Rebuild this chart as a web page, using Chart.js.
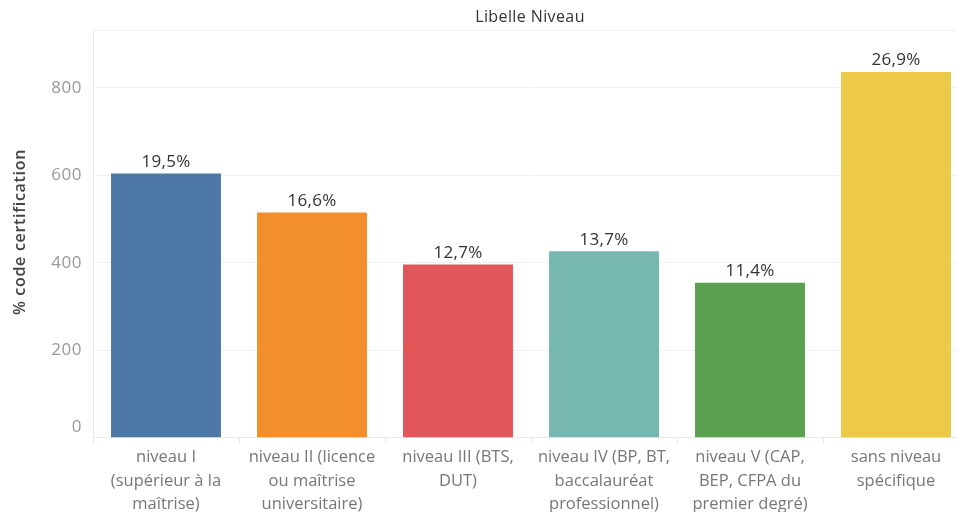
<!DOCTYPE html>
<html>
<head>
<meta charset="utf-8">
<script src="https://cdn.jsdelivr.net/npm/chart.js@4.4.0/dist/chart.umd.min.js"></script>
<style>
  html, body { margin: 0; padding: 0; background: #fff; overflow: hidden; }
  #wrap { width: 975px; height: 518px; }
</style>
</head>
<body>
<div id="wrap"><canvas id="niveauChart" width="975" height="518"></canvas></div>
<script>
// data
const categories = [
  ['niveau I', '(supérieur à la', 'maîtrise)'],
  ['niveau II (licence', 'ou maîtrise', 'universitaire)'],
  ['niveau III (BTS,', 'DUT)'],
  ['niveau IV (BP, BT,', 'baccalauréat', 'professionnel)'],
  ['niveau V (CAP,', 'BEP, CFPA du', 'premier degré)'],
  ['sans niveau', 'spécifique']
];
const counts = [604, 515, 396, 426, 354, 836];
const shareLabels = ['19,5%', '16,6%', '12,7%', '13,7%', '11,4%', '26,9%'];
const barColors = ['#4E79A7', '#F28E2B', '#E15759', '#76B7B2', '#59A14F', '#EDC948'];
const yTicks = [0, 200, 400, 600, 800];

const FONT = '"Open Sans", sans-serif';

// title, y axis title, y tick labels and bar labels
const decorations = {
  id: 'decorations',
  afterDraw(chart) {
    const ctx = chart.ctx;
    const y = chart.scales.y;
    ctx.save();

    ctx.fillStyle = '#333';
    ctx.font = '16px ' + FONT;
    ctx.letterSpacing = '0.4px';
    ctx.textAlign = 'center';
    ctx.textBaseline = 'middle';
    ctx.fillText('Libelle Niveau', 530, 17);

    ctx.fillStyle = '#999';
    ctx.font = '17px ' + FONT;
    ctx.letterSpacing = '0.5px';
    ctx.textAlign = 'right';
    yTicks.forEach(v => {
      const py = y.getPixelForValue(v) - (v === 0 ? 11 : 0);
      ctx.fillText(String(v), 82, py);
    });

    ctx.save();
    ctx.translate(20, 232);
    ctx.rotate(-Math.PI / 2);
    ctx.fillStyle = '#444';
    ctx.font = '600 16px ' + FONT;
    ctx.letterSpacing = '0.7px';
    ctx.textAlign = 'center';
    ctx.fillText('% code certification', 0, 0);
    ctx.restore();

    ctx.fillStyle = '#333';
    ctx.font = '17px ' + FONT;
    ctx.letterSpacing = '0.3px';
    ctx.textAlign = 'center';
    ctx.textBaseline = 'bottom';
    chart.getDatasetMeta(0).data.forEach((bar, i) => {
      ctx.fillText(shareLabels[i], bar.x, bar.y - 3);
    });

    ctx.restore();
  }
};

new Chart(document.getElementById('niveauChart'), {
  type: 'bar',
  data: {
    labels: categories,
    datasets: [{
      data: counts,
      backgroundColor: barColors,
      borderWidth: 0,
      categoryPercentage: 1,
      barPercentage: 0.753
    }]
  },
  options: {
    responsive: false,
    animation: false,
    layout: { padding: { left: 93, top: 30, right: 6, bottom: 0 } },
    plugins: {
      legend: { display: false },
      tooltip: { enabled: false }
    },
    scales: {
      x: {
        grid: { drawOnChartArea: false, color: '#e8e8e8', tickLength: 6 },
        border: { color: '#e8e8e8' },
        ticks: {
          color: '#777',
          font: { family: FONT, size: 16.5, lineHeight: 1.42 },
          maxRotation: 0,
          autoSkip: false,
          padding: 2
        }
      },
      y: {
        min: 0,
        max: 932,
        ticks: { display: false, stepSize: 200 },
        grid: {
          color: ctx => ctx.tick.value === 0 ? 'rgba(0,0,0,0)' : '#f0f0f0',
          drawTicks: false
        },
        border: { color: '#e8e8e8' }
      }
    }
  },
  plugins: [decorations]
});
</script>
</body>
</html>
